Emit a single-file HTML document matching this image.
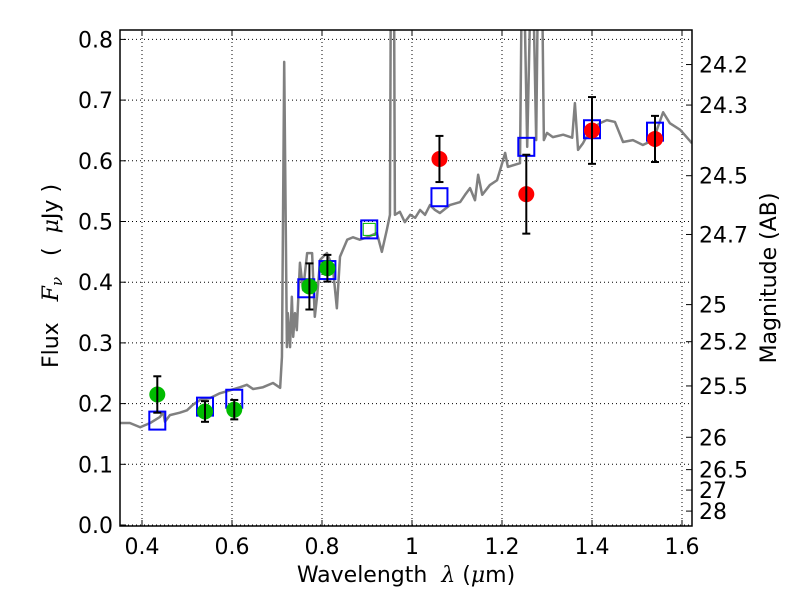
<!DOCTYPE html>
<html><head><meta charset="utf-8"><style>
body{margin:0;background:#fff}
svg text{font-family:"DejaVu Sans","Liberation Sans",sans-serif;font-size:22px;fill:#000}
</style></head><body>
<svg id="c" width="800" height="600"></svg>
<script>
const specLam=[0.351,0.373,0.396,0.418,0.440,0.447,0.451,0.462,0.484,0.500,0.513,0.529,0.551,0.573,0.596,0.618,0.633,0.647,0.669,0.691,0.707,0.711,0.716,0.722,0.724,0.729,0.733,0.736,0.740,0.744,0.751,0.758,0.767,0.778,0.784,0.789,0.796,0.811,0.824,0.833,0.840,0.856,0.869,0.884,0.900,0.922,0.933,0.944,0.951,0.953,0.960,0.962,0.973,0.984,0.996,1.007,1.018,1.029,1.040,1.051,1.062,1.084,1.107,1.118,1.129,1.140,1.147,1.156,1.173,1.189,1.196,1.207,1.213,1.240,1.244,1.249,1.256,1.264,1.269,1.276,1.280,1.289,1.293,1.300,1.313,1.336,1.356,1.362,1.369,1.380,1.396,1.418,1.433,1.451,1.469,1.491,1.513,1.536,1.558,1.573,1.596,1.622];
const specFlux=[0.168,0.168,0.161,0.168,0.178,0.186,0.170,0.181,0.185,0.189,0.198,0.206,0.209,0.217,0.222,0.227,0.231,0.224,0.227,0.234,0.226,0.277,0.763,0.293,0.349,0.293,0.376,0.310,0.349,0.321,0.432,0.387,0.448,0.448,0.343,0.376,0.437,0.448,0.425,0.357,0.442,0.470,0.474,0.470,0.474,0.481,0.450,0.486,0.511,0.9,0.9,0.511,0.516,0.499,0.511,0.506,0.519,0.511,0.527,0.519,0.514,0.527,0.532,0.544,0.555,0.535,0.577,0.544,0.560,0.568,0.585,0.613,0.590,0.596,0.9,0.9,0.623,0.9,0.9,0.634,0.9,0.9,0.634,0.646,0.639,0.643,0.638,0.695,0.618,0.629,0.651,0.662,0.667,0.664,0.631,0.634,0.626,0.634,0.680,0.662,0.651,0.629];
const greenLam=[0.434,0.540,0.605,0.772,0.812];
const greenFlux=[0.215,0.187,0.190,0.393,0.423];
const greenErr=[0.030,0.017,0.016,0.038,0.022];
const redLam=[1.061,1.254,1.400,1.540];
const redFlux=[0.603,0.545,0.650,0.636];
const redErr=[0.038,0.065,0.055,0.038];
const boxLam=[0.434,0.540,0.605,0.765,0.812,0.905,1.061,1.254,1.400,1.540];
const boxFlux=[0.172,0.195,0.208,0.390,0.420,0.487,0.540,0.623,0.652,0.648];
const xTicks=[0.4,0.6,0.8,1.0,1.2,1.4,1.6];
const xTickLabels=["0.4","0.6","0.8","1","1.2","1.4","1.6"];
const yTicks=[0,0.1,0.2,0.3,0.4,0.5,0.6,0.7,0.8];
const magTicks=[24.2,24.3,24.5,24.7,25,25.2,25.5,26,26.5,27,28];
const magZP=23.9;

const L=120,R=692,T=30,B=526;
const X=l=>142+(l-0.4)*450;
const Y=f=>525-f*607;
const NS="http://www.w3.org/2000/svg";
const svg=document.getElementById('c');
function mk(tag,at,parent){const e=document.createElementNS(NS,tag);for(const k in at)e.setAttribute(k,at[k]);(parent||svg).appendChild(e);return e;}
const defs=mk('defs',{});
const cp=mk('clipPath',{id:'clip'},defs);mk('rect',{x:L,y:T,width:R-L,height:B-T},cp);
xTicks.forEach((t,i)=>{
 const g=mk('line',{x1:X(t),x2:X(t),y1:T,y2:B,stroke:'#000','stroke-width':1,'stroke-dasharray':'1,3'});
 
 
 const tk=mk('line',{x1:X(t),x2:X(t),y1:B,y2:B-6,stroke:'#000'});
 
 
 mk('line',{x1:X(t),x2:X(t),y1:T,y2:T+6,stroke:'#000'});
 const tx=mk('text',{x:X(t),y:B+28,'text-anchor':'middle'});tx.textContent=xTickLabels[i];
 
 
});
yTicks.forEach(t=>{
 const g=mk('line',{x1:L,x2:R,y1:Y(t),y2:Y(t),stroke:'#000','stroke-width':1,'stroke-dasharray':'1,3'});
 
 
 mk('line',{x1:L,x2:L+6,y1:Y(t),y2:Y(t),stroke:'#000'});
 const tx=mk('text',{x:L-7,y:Y(t)+8,'text-anchor':'end'});tx.textContent=t.toFixed(1);
 
 
});
magTicks.forEach(m=>{
 const yy=Y(Math.pow(10,-0.4*(m-magZP)));
 mk('line',{x1:R,x2:R-6,y1:yy,y2:yy,stroke:'#000'});
 const tx=mk('text',{x:R+7,y:yy+8});tx.textContent=String(m);
 
 
});
const pg=mk('g',{'clip-path':'url(#clip)'});
const sp=mk('polyline',{points:specLam.map((l,i)=>X(l)+','+Y(specFlux[i])).join(' '),fill:'none',stroke:'#808080','stroke-width':2.5,'stroke-linejoin':'round'},pg);


function err(l,f,e){
 mk('line',{x1:X(l),x2:X(l),y1:Y(f-e),y2:Y(f+e),stroke:'#000','stroke-width':2},pg);
 [f-e,f+e].forEach(v=>mk('line',{x1:X(l)-4,x2:X(l)+4,y1:Y(v),y2:Y(v),stroke:'#000','stroke-width':2},pg));
}
boxLam.forEach((l,i)=>{
 const r=mk('rect',{x:X(l)-8,y:Y(boxFlux[i])-9,width:16,height:18,fill:'none',stroke:'#0000ff','stroke-width':2},pg);
 
 
});
mk('rect',{x:X(0.905)-6,y:Y(0.487)-6,width:12,height:12,fill:'none',stroke:'#00bb00','stroke-width':1},pg);
greenLam.forEach((l,i)=>{
 const c=mk('circle',{cx:X(l),cy:Y(greenFlux[i]),r:8,fill:'#00bb00'},pg);
 
 
 err(l,greenFlux[i],greenErr[i]);
});
redLam.forEach((l,i)=>{
 const c=mk('circle',{cx:X(l),cy:Y(redFlux[i]),r:8,fill:'#ff0000'},pg);
 
 
 err(l,redFlux[i],redErr[i]);
});
const fr=mk('rect',{x:L,y:T,width:R-L,height:B-T,fill:'none',stroke:'#000','stroke-width':1.5});


</script>
<svg width="800" height="600" style="position:absolute;left:0;top:0">
<text x="406" y="582" text-anchor="middle" xml:space="preserve">Wavelength  <tspan font-style="italic" font-family="DejaVu Serif,serif">λ</tspan> (<tspan font-style="italic" font-family="DejaVu Serif,serif">μ</tspan>m)</text>
<text transform="translate(58,276) rotate(-90)" text-anchor="middle" xml:space="preserve">Flux   <tspan font-style="italic" font-family="DejaVu Serif,serif">F<tspan font-size="15" dy="4">ν</tspan></tspan><tspan dy="-4">   (  </tspan><tspan font-style="italic" font-family="DejaVu Serif,serif">μ</tspan>Jy )</text>
<text transform="translate(776,278) rotate(-90)" text-anchor="middle">Magnitude (AB)</text>
</svg>
</body></html>
